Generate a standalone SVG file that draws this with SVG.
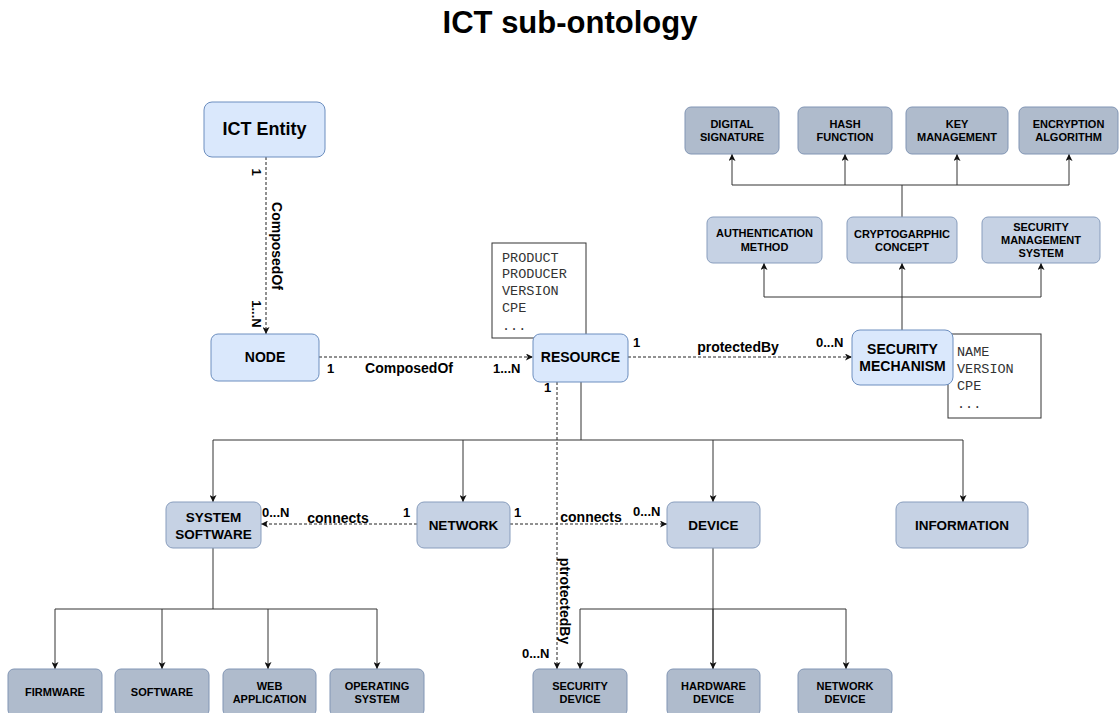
<svg xmlns="http://www.w3.org/2000/svg" width="1119" height="713" viewBox="0 0 1119 713">
  <style>
    .t { font-family: "Liberation Sans", Arial, sans-serif; font-weight: bold; fill: #000; text-anchor: middle; }
    .light { fill: #dae8fc; stroke: #6c8ebf; stroke-width: 1; }
    .mid { fill: #c6d2e4; stroke: #889dbd; stroke-width: 1; }
    .dark { fill: #afbbcc; stroke: #8195b4; stroke-width: 1; }
    .attr { fill: #fff; stroke: #333; stroke-width: 1; }
    .mono { font-family: "Liberation Mono", "Courier New", monospace; font-size: 13.5px; fill: #333; }
    .dash { fill: none; stroke: #222; stroke-width: 1; stroke-dasharray: 3 2; }
    .tree { fill: none; stroke: #333; stroke-width: 1; }
    .lbl { font-family: "Liberation Sans", Arial, sans-serif; font-weight: bold; font-size: 14px; fill: #000; }
    .card { font-family: "Liberation Sans", Arial, sans-serif; font-weight: bold; font-size: 13px; fill: #000; }
  </style>
  <defs>
    <marker id="arr" viewBox="0 0 10 10" refX="10" refY="5" markerWidth="7" markerHeight="7" orient="auto" markerUnits="userSpaceOnUse">
      <path d="M0,0 L10,5 L0,10 L2.5,5 Z" fill="#111"/>
    </marker>
  </defs>

  <rect width="1119" height="713" fill="#fff"/>

  <text class="t" x="570" y="33" font-size="31">ICT sub-ontology</text>

  <!-- attribute boxes (behind their owners) -->
  <g id="resource-attrs">
    <rect class="attr" x="492" y="243" width="94" height="95"/>
    <text class="mono" x="502" y="262">PRODUCT</text>
    <text class="mono" x="502" y="278">PRODUCER</text>
    <text class="mono" x="502" y="295">VERSION</text>
    <text class="mono" x="502" y="312">CPE</text>
    <text class="mono" x="502" y="330">...</text>
  </g>
  <g id="mechanism-attrs">
    <rect class="attr" x="948" y="334" width="93" height="84"/>
    <text class="mono" x="957" y="356">NAME</text>
    <text class="mono" x="957" y="373">VERSION</text>
    <text class="mono" x="957" y="390">CPE</text>
    <text class="mono" x="957" y="408">...</text>
  </g>

  <!-- connectors -->
  <g id="connectors">
    <!-- dashed relations -->
    <line class="dash" x1="266" y1="157" x2="266" y2="334" marker-end="url(#arr)"/>
    <line class="dash" x1="319" y1="357" x2="533" y2="357" marker-end="url(#arr)"/>
    <line class="dash" x1="628" y1="357" x2="852" y2="357" marker-end="url(#arr)"/>
    <line class="dash" x1="417" y1="524" x2="261" y2="524" marker-end="url(#arr)"/>
    <line class="dash" x1="510" y1="524" x2="667" y2="524" marker-end="url(#arr)"/>
    <line class="dash" x1="557" y1="382" x2="557" y2="669" marker-end="url(#arr)"/>

    <!-- cryptographic concept children -->
    <path class="tree" d="M902,217 V185 M732,185 H1069"/>
    <line class="tree" x1="732" y1="185" x2="732" y2="154" marker-end="url(#arr)"/>
    <line class="tree" x1="845" y1="185" x2="845" y2="154" marker-end="url(#arr)"/>
    <line class="tree" x1="957" y1="185" x2="957" y2="154" marker-end="url(#arr)"/>
    <line class="tree" x1="1069" y1="185" x2="1069" y2="154" marker-end="url(#arr)"/>

    <!-- security mechanism children -->
    <path class="tree" d="M902,330 V297 M764,297 H1041"/>
    <line class="tree" x1="764" y1="297" x2="764" y2="263" marker-end="url(#arr)"/>
    <line class="tree" x1="902" y1="297" x2="902" y2="263" marker-end="url(#arr)"/>
    <line class="tree" x1="1041" y1="297" x2="1041" y2="263" marker-end="url(#arr)"/>

    <!-- resource children -->
    <path class="tree" d="M581,382 V440 M213,440 H963"/>
    <line class="tree" x1="213" y1="440" x2="213" y2="502" marker-end="url(#arr)"/>
    <line class="tree" x1="463" y1="440" x2="463" y2="502" marker-end="url(#arr)"/>
    <line class="tree" x1="713" y1="440" x2="713" y2="502" marker-end="url(#arr)"/>
    <line class="tree" x1="963" y1="440" x2="963" y2="502" marker-end="url(#arr)"/>

    <!-- system software children -->
    <path class="tree" d="M213,548 V609 M55,609 H377"/>
    <line class="tree" x1="55" y1="609" x2="55" y2="669" marker-end="url(#arr)"/>
    <line class="tree" x1="162" y1="609" x2="162" y2="669" marker-end="url(#arr)"/>
    <line class="tree" x1="268" y1="609" x2="268" y2="669" marker-end="url(#arr)"/>
    <line class="tree" x1="377" y1="609" x2="377" y2="669" marker-end="url(#arr)"/>

    <!-- device children -->
    <path class="tree" d="M713,548 V669 M580,609 H846"/>
    <line class="tree" x1="580" y1="609" x2="580" y2="669" marker-end="url(#arr)"/>
    <line class="tree" x1="713" y1="609" x2="713" y2="669" marker-end="url(#arr)"/>
    <line class="tree" x1="846" y1="609" x2="846" y2="669" marker-end="url(#arr)"/>

    <!-- relation labels -->
    <text class="card" transform="translate(252,172) rotate(90)" text-anchor="middle">1</text>
    <text class="lbl" transform="translate(272,246) rotate(90)" text-anchor="middle">ComposedOf</text>
    <text class="card" transform="translate(252,314) rotate(90)" text-anchor="middle">1...N</text>

    <text class="card" x="327" y="373">1</text>
    <text class="lbl" x="409" y="373" text-anchor="middle">ComposedOf</text>
    <text class="card" x="493" y="373">1...N</text>

    <text class="card" x="633" y="347">1</text>
    <text class="lbl" x="738" y="352" text-anchor="middle">protectedBy</text>
    <text class="card" x="816" y="347">0...N</text>

    <text class="card" x="544" y="392">1</text>

    <text class="card" x="262" y="517">0...N</text>
    <text class="lbl" x="338" y="523" text-anchor="middle">connects</text>
    <text class="card" x="403" y="517">1</text>

    <text class="card" x="514" y="517">1</text>
    <text class="lbl" x="591" y="522" text-anchor="middle">connects</text>
    <text class="card" x="633" y="516">0...N</text>

    <text class="lbl" transform="translate(560,601) rotate(90)" text-anchor="middle">ptrotectedBy</text>
    <text class="card" x="522" y="658">0...N</text>
  </g>

  <!-- nodes -->
  <g id="ict-entity">
    <rect class="light" x="204" y="102" width="121" height="55" rx="8"/>
    <text class="t" x="264.5" y="135" font-size="18">ICT Entity</text>
  </g>
  <g id="node">
    <rect class="light" x="211" y="334" width="108" height="47" rx="7"/>
    <text class="t" x="265" y="362" font-size="14">NODE</text>
  </g>
  <g id="resource">
    <rect class="light" x="533" y="334" width="95" height="48" rx="7"/>
    <text class="t" x="580.5" y="362" font-size="14">RESOURCE</text>
  </g>
  <g id="security-mechanism">
    <rect class="light" x="852" y="330" width="101" height="55" rx="8"/>
    <text class="t" x="902.5" y="354" font-size="14">SECURITY</text>
    <text class="t" x="902.5" y="371" font-size="14">MECHANISM</text>
  </g>

  <g id="digital-signature">
    <rect class="dark" x="685" y="107" width="94" height="47" rx="6"/>
    <text class="t" x="732" y="128" font-size="11">DIGITAL</text>
    <text class="t" x="732" y="141" font-size="11">SIGNATURE</text>
  </g>
  <g id="hash-function">
    <rect class="dark" x="798" y="107" width="94" height="47" rx="6"/>
    <text class="t" x="845" y="128" font-size="11">HASH</text>
    <text class="t" x="845" y="141" font-size="11">FUNCTION</text>
  </g>
  <g id="key-management">
    <rect class="dark" x="906" y="107" width="102" height="47" rx="6"/>
    <text class="t" x="957" y="128" font-size="11">KEY</text>
    <text class="t" x="957" y="141" font-size="11">MANAGEMENT</text>
  </g>
  <g id="encryption-algorithm">
    <rect class="dark" x="1019" y="107" width="99" height="47" rx="6"/>
    <text class="t" x="1068.5" y="128" font-size="11">ENCRYPTION</text>
    <text class="t" x="1068.5" y="141" font-size="11">ALGORITHM</text>
  </g>

  <g id="authentication-method">
    <rect class="mid" x="707" y="217" width="115" height="46" rx="6"/>
    <text class="t" x="764.5" y="237" font-size="11">AUTHENTICATION</text>
    <text class="t" x="764.5" y="251" font-size="11">METHOD</text>
  </g>
  <g id="cryptographic-concept">
    <rect class="mid" x="847" y="217" width="110" height="46" rx="6"/>
    <text class="t" x="902" y="238" font-size="11">CRYPTOGARPHIC</text>
    <text class="t" x="902" y="251" font-size="11">CONCEPT</text>
  </g>
  <g id="security-management-system">
    <rect class="mid" x="982" y="217" width="118" height="46" rx="6"/>
    <text class="t" x="1041" y="231" font-size="11">SECURITY</text>
    <text class="t" x="1041" y="244" font-size="11">MANAGEMENT</text>
    <text class="t" x="1041" y="257" font-size="11">SYSTEM</text>
  </g>

  <g id="system-software">
    <rect class="mid" x="166" y="502" width="95" height="46" rx="7"/>
    <text class="t" x="213.5" y="522" font-size="13.5">SYSTEM</text>
    <text class="t" x="213.5" y="539" font-size="13.5">SOFTWARE</text>
  </g>
  <g id="network">
    <rect class="mid" x="417" y="502" width="93" height="46" rx="7"/>
    <text class="t" x="463.5" y="530" font-size="13.5">NETWORK</text>
  </g>
  <g id="device">
    <rect class="mid" x="667" y="502" width="93" height="46" rx="7"/>
    <text class="t" x="713.5" y="530" font-size="13.5">DEVICE</text>
  </g>
  <g id="information">
    <rect class="mid" x="896" y="502" width="132" height="46" rx="7"/>
    <text class="t" x="962" y="530" font-size="13.5">INFORMATION</text>
  </g>

  <g id="firmware">
    <rect class="dark" x="8" y="669" width="94" height="47" rx="6"/>
    <text class="t" x="55" y="696" font-size="11">FIRMWARE</text>
  </g>
  <g id="software">
    <rect class="dark" x="115" y="669" width="94" height="47" rx="6"/>
    <text class="t" x="162" y="696" font-size="11">SOFTWARE</text>
  </g>
  <g id="web-application">
    <rect class="dark" x="223" y="669" width="93" height="47" rx="6"/>
    <text class="t" x="269.5" y="690" font-size="11">WEB</text>
    <text class="t" x="269.5" y="703" font-size="11">APPLICATION</text>
  </g>
  <g id="operating-system">
    <rect class="dark" x="330" y="669" width="94" height="47" rx="6"/>
    <text class="t" x="377" y="690" font-size="11">OPERATING</text>
    <text class="t" x="377" y="703" font-size="11">SYSTEM</text>
  </g>

  <g id="security-device">
    <rect class="dark" x="533" y="669" width="94" height="47" rx="6"/>
    <text class="t" x="580" y="690" font-size="11">SECURITY</text>
    <text class="t" x="580" y="703" font-size="11">DEVICE</text>
  </g>
  <g id="hardware-device">
    <rect class="dark" x="667" y="669" width="93" height="47" rx="6"/>
    <text class="t" x="713.5" y="690" font-size="11">HARDWARE</text>
    <text class="t" x="713.5" y="703" font-size="11">DEVICE</text>
  </g>
  <g id="network-device">
    <rect class="dark" x="798" y="669" width="94" height="47" rx="6"/>
    <text class="t" x="845" y="690" font-size="11">NETWORK</text>
    <text class="t" x="845" y="703" font-size="11">DEVICE</text>
  </g>
</svg>
